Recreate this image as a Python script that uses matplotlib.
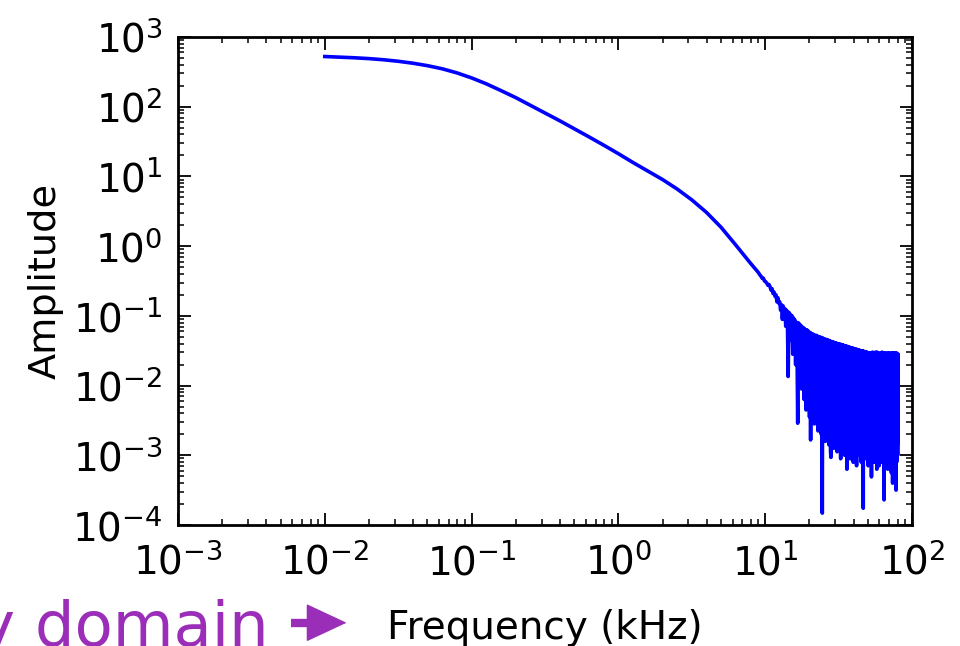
import numpy as np
import matplotlib
matplotlib.use('Agg')
import matplotlib.pyplot as plt
from matplotlib.ticker import LogLocator, NullFormatter

plt.rcParams['axes.unicode_minus'] = False

# smooth low-frequency part of the spectrum (kHz, amplitude)
freq_smooth = [0.0100, 0.0126, 0.0158, 0.0200, 0.0251, 0.0316, 0.0398, 0.0501,
               0.0631, 0.0794, 0.100, 0.126, 0.158, 0.200, 0.251, 0.316, 0.398,
               0.501, 0.631, 0.794, 1.00, 1.26, 1.58, 2.00, 2.51, 3.16, 3.98,
               5.01, 6.31, 7.94]
amp_smooth = [525, 515, 504, 490, 472, 449, 421, 388,
              350, 306, 259, 213, 171, 135, 105, 81.7, 63.0,
              48.3, 36.9, 28.1, 21.2, 15.8, 12.0, 9.02, 6.61, 4.62, 3.05,
              1.86, 1.035, 0.569]

# noisy high-frequency part: 400 FFT bins from 9 to 80 kHz, log10 of amplitude
noise_f_start = 9.0
noise_f_end = 80.0
noise_log_amp = [
    -0.38, -0.41, -0.43, -0.46, -0.46, -0.50, -0.51, -0.53, -0.56, -0.55,
    -0.58, -0.63, -0.61, -0.68, -0.66, -0.72, -0.70, -0.80, -0.74, -0.82,
    -0.80, -0.92, -0.84, -1.05, -0.86, -0.98, -0.90, -1.15, -0.92, -1.02,
    -1.87, -0.95, -1.20, -0.98, -1.35, -1.00, -1.55, -1.03, -1.28, -1.06,
    -1.70, -1.09, -1.45, -2.54, -1.10, -1.85, -1.12, -1.60, -1.14, -2.05,
    -1.16, -1.75, -1.17, -2.20, -1.19, -1.55, -2.35, -1.20, -1.90, -1.21,
    -2.10, -1.23, -2.45, -1.24, -2.78, -1.25, -1.80, -2.30, -1.26, -2.00,
    -1.27, -2.55, -1.28, -1.95, -2.40, -1.28, -2.15, -1.29, -2.65, -1.30,
    -1.85, -1.30, -2.50, -1.31, -2.25, -2.70, -1.31, -3.83, -1.32, -2.35,
    -1.33, -2.60, -1.33, -2.05, -2.80, -1.34, -2.40, -1.34, -2.75, -1.35,
    -2.20, -1.35, -2.85, -1.36, -2.50, -1.36, -2.95, -3.03, -1.37, -2.30,
    -1.37, -2.70, -1.38, -2.45, -2.90, -1.38, -2.15, -1.39, -2.80, -1.39,
    -2.60, -1.39, -2.35, -2.95, -1.40, -2.55, -1.40, -2.85, -1.40, -2.20,
    -1.41, -2.75, -1.41, -3.05, -2.40, -1.41, -2.65, -1.42, -2.90, -1.42,
    -2.50, -1.42, -2.80, -1.43, -2.30, -3.00, -1.43, -2.60, -1.43, -2.85,
    -1.44, -2.45, -3.20, -1.44, -2.70, -1.44, -2.95, -1.45, -2.55, -1.45,
    -2.85, -1.45, -2.40, -3.05, -1.46, -2.65, -1.46, -2.90, -1.46, -2.50,
    -1.46, -2.80, -1.47, -3.10, -2.55, -1.47, -2.75, -1.47, -2.95, -1.48,
    -2.60, -1.48, -2.90, -1.48, -2.45, -3.15, -1.48, -2.70, -1.49, -2.85,
    -1.49, -2.55, -3.00, -1.49, -2.75, -1.49, -2.95, -1.50, -2.60, -1.50,
    -2.90, -1.50, -2.70, -3.10, -1.50, -2.50, -1.50, -2.85, -1.51, -2.65,
    -1.51, -3.76, -1.51, -2.80, -2.55, -1.51, -2.95, -1.52, -2.70, -1.52,
    -2.90, -1.52, -2.60, -3.05, -1.52, -2.75, -1.52, -2.95, -1.53, -2.65,
    -1.53, -2.85, -3.15, -1.53, -2.60, -1.53, -2.90, -1.53, -2.75, -1.54,
    -2.95, -1.54, -2.70, -1.54, -3.05, -2.80, -1.54, -3.31, -1.54, -2.65,
    -1.54, -2.90, -1.52, -2.75, -3.00, -1.57, -2.60, -1.55, -2.95, -1.53,
    -2.80, -1.58, -3.10, -1.55, -2.70, -2.95, -1.52, -2.85, -1.56, -3.00,
    -1.59, -2.75, -1.54, -3.20, -2.65, -1.52, -2.90, -1.57, -2.80, -1.55,
    -3.05, -1.53, -2.85, -1.58, -2.70, -3.15, -1.55, -2.95, -1.60, -2.80,
    -1.54, -3.00, -2.75, -1.57, -2.90, -1.53, -3.10, -1.59, -2.70, -1.55,
    -2.95, -1.52, -2.85, -3.05, -1.58, -2.75, -1.55, -2.95, -1.61, -2.85,
    -1.54, -3.10, -3.64, -1.57, -2.80, -1.53, -2.95, -1.59, -3.05, -1.56,
    -2.75, -1.54, -3.00, -2.85, -1.60, -3.15, -1.55, -2.80, -1.57, -2.95,
    -1.53, -3.05, -1.58, -2.75, -3.20, -1.55, -2.90, -1.61, -3.00, -1.54,
    -2.85, -1.57, -3.10, -1.53, -2.95, -3.00, -1.59, -2.80, -1.55, -3.15,
    -1.56, -2.90, -3.05, -1.60, -2.75, -1.54, -3.25, -1.57, -2.95, -1.53,
    -3.00, -1.58, -2.85, -1.55, -3.40, -2.90, -1.61, -3.05, -1.54, -2.80,
    -1.57, -3.10, -1.53, -2.95, -3.00, -1.59, -2.85, -1.55, -3.15, -1.58,
    -2.90, -1.54, -3.05, -2.85, -1.60, -3.00, -1.56, -3.50, -1.53, -2.95,
    -1.57, -3.10, -1.55, -2.90, -3.05, -1.59, -2.85, -1.54, -3.00, -1.56,
]

freq_noise = np.linspace(noise_f_start, noise_f_end, len(noise_log_amp))
amp_noise = 10.0 ** np.array(noise_log_amp)
freq = np.concatenate([freq_smooth, freq_noise])
amp = np.concatenate([amp_smooth, amp_noise])

fig = plt.figure(figsize=(9.6, 6.46), dpi=100)
ax = fig.add_axes([0.1854, 0.1873, 0.7646, 0.7554])
ax.plot(freq, amp, color='#0000ff', lw=2.6)

ax.set_xscale('log')
ax.set_yscale('log')
ax.set_xlim(1e-3, 1e2)
ax.set_ylim(1e-4, 1e3)

for axis in (ax.xaxis, ax.yaxis):
    axis.set_major_locator(LogLocator(base=10, numticks=20))
    axis.set_minor_locator(LogLocator(base=10, subs=np.arange(2, 10), numticks=100))
    axis.set_minor_formatter(NullFormatter())

ax.tick_params(which='both', direction='in', top=True, right=True, labelsize=28)
ax.tick_params(which='major', length=9, width=1.3)
ax.tick_params(which='minor', length=4.5, width=1.1)
ax.tick_params(axis='x', which='major', pad=13)
ax.tick_params(axis='y', which='major', pad=11)
for s in ax.spines.values():
    s.set_linewidth(2)

ax.set_ylabel('Amplitude', fontsize=27.5, labelpad=6)
ax.set_xlabel('Frequency (kHz)', fontsize=28, labelpad=19)

purple = '#9b2eb8'
fig.text(-0.023, 0.0, 'y domain', color=purple, fontsize=45,
         ha='left', va='baseline')
fig.add_artist(plt.Line2D([0.303, 0.336], [0.036, 0.036], transform=fig.transFigure,
                          color=purple, lw=6, solid_capstyle='butt'))
ax.annotate('', xy=(0.361, 0.036), xytext=(0.330, 0.036),
            xycoords='figure fraction', textcoords='figure fraction',
            arrowprops=dict(arrowstyle='-|>,head_length=0.9,head_width=0.42',
                            color=purple, lw=1, mutation_scale=30,
                            shrinkA=0, shrinkB=0))

fig.savefig('out.png', dpi=100)
